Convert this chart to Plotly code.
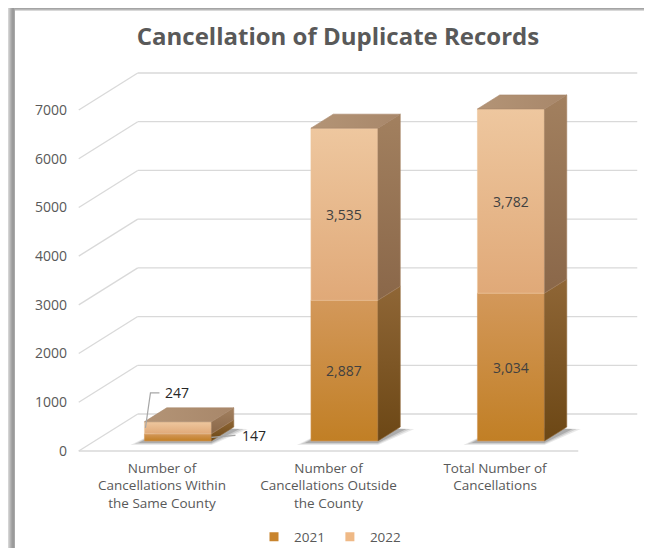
import plotly.graph_objects as go

# ---------------- data ----------------
categories = [
    "Number of<br>Cancellations Within<br>the Same County",
    "Number of<br>Cancellations Outside<br>the County",
    "Total Number of<br>Cancellations",
]
values_2021 = [147, 2887, 3034]
values_2022 = [247, 3535, 3782]
series_names = ["2021", "2022"]
y_ticks = [0, 1000, 2000, 3000, 4000, 5000, 6000, 7000]
title_text = "Cancellation of Duplicate Records"

# ---------------- layout geometry (figure pixels; page has an 8px body margin) ----------------
OFF = 8
W, H = 652 - 2 * OFF, 560 - 2 * OFF - 4
L, R, T = 76 - OFF, 2, 60 - OFF
B = H - (458 - OFF)
PX_PER_CAT = 166.5
PX_PER_VAL = 341.0 / 7000.0
X0_PX, Y0_PX = 162.0 - OFF, 451.0 - OFF
x_range = [(L - X0_PX) / PX_PER_CAT, (W - R - X0_PX) / PX_PER_CAT]
y_range = [(Y0_PX - (H - B)) / PX_PER_VAL, (Y0_PX - T) / PX_PER_VAL]


def dxp(px):
    return px / PX_PER_CAT


def dvp(px):
    return px / PX_PER_VAL


DEPTH_X, DEPTH_Y = dxp(59), dvp(37)
F_FRONT, F_BACK = 10 / 37, 24 / 37
HALF_W = dxp(33.5)
EDGE_L, EDGE_R = -0.5, len(categories) - 0.5

FONT = "Open Sans"
TXT = "#595959"
GRID = "#d9d9d9"

C2021 = dict(front_top="#d3985a", front_bot="#c17f25", side_top="#8f6636", side_bot="#6c4715")
C2022 = dict(front_top="#eec79f", front_bot="#e0a978", side_top="#a2805f", side_bot="#8a6749")
C_TOP = ("#b39476", "#a8876a")
LEG = {"2021": "#c8842e", "2022": "#efb986"}

fig = go.Figure()


def poly(xs, ys, color=None, grad=None, line_color=None, lw=0.6):
    kw = dict(
        x=list(xs) + [xs[0]], y=list(ys) + [ys[0]], mode="lines", fill="toself",
        line=dict(color=line_color or (color if color else grad[1][1]), width=lw),
        hoverinfo="skip", showlegend=False,
    )
    if grad is not None:
        kw["fillgradient"] = dict(type=grad[0], colorscale=[[0, grad[1][0]], [1, grad[1][1]]])
    else:
        kw["fillcolor"] = color
    fig.add_trace(go.Scatter(**kw))


# ---------------- walls & floor ----------------
gx, gy = [], []
for v in y_ticks:
    gx += [EDGE_L, EDGE_L + DEPTH_X, None]
    gy += [v, v + DEPTH_Y, None]
    gx += [EDGE_L + DEPTH_X, EDGE_R + DEPTH_X, None]
    gy += [v + DEPTH_Y, v + DEPTH_Y, None]
gx += [EDGE_L, EDGE_R, None]
gy += [0, 0, None]
fig.add_trace(go.Scatter(x=gx, y=gy, mode="lines", line=dict(color=GRID, width=1.3),
                         hoverinfo="skip", showlegend=False))

# ---------------- bars ----------------
for i in range(len(categories)):
    fx, fy = F_FRONT * DEPTH_X, F_FRONT * DEPTH_Y
    bx, by = F_BACK * DEPTH_X, F_BACK * DEPTH_Y
    xl, xr = i + fx - HALF_W, i + fx + HALF_W
    for k, a in enumerate([0.10, 0.14, 0.20]):
        e = 14 - 4 * k
        poly([xl - dxp(e), xr, xr + (bx - fx) + dxp(e), xl + (bx - fx)],
             [fy - dvp(4 - k), fy - dvp(4 - k), by - dvp(2), by],
             color=f"rgba(40,40,40,{a})", lw=0)
    base = 0
    segs = [(values_2021[i], C2021), (values_2022[i], C2022)]
    for val, col in segs:
        lo, hi = base, base + val
        poly([xl, xr, xr, xl], [fy + lo, fy + lo, fy + hi, fy + hi],
             grad=("vertical", (col["front_bot"], col["front_top"])))
        poly([xr, xr + (bx - fx), xr + (bx - fx), xr], [fy + lo, by + lo, by + hi, fy + hi],
             grad=("vertical", (col["side_bot"], col["side_top"])))
        base = hi
    top = base
    poly([xl, xr, xr + (bx - fx), xl + (bx - fx)], [fy + top, fy + top, by + top, by + top],
         grad=("horizontal", (C_TOP[0], C_TOP[1])))

# ---------------- data labels ----------------
ann = []
fxo, fyo = F_FRONT * DEPTH_X, F_FRONT * DEPTH_Y
for i in range(len(categories)):
    a, b = values_2021[i], values_2022[i]
    if a + b > 1500:
        ann.append(dict(x=i + fxo, y=fyo + a / 2, text=f"{a:,}", showarrow=False,
                        font=dict(size=14, color="#404040", family=FONT)))
        ann.append(dict(x=i + fxo, y=fyo + a + b / 2, text=f"{b:,}", showarrow=False,
                        font=dict(size=14, color="#404040", family=FONT)))
    else:
        xl, xr = i + fxo - HALF_W, i + fxo + HALF_W
        ly = fyo + dvp(29) + a + b
        fig.add_trace(go.Scatter(
            x=[xl + dxp(1), xl + dxp(6), xl + dxp(15)],
            y=[fyo + a + b / 2, ly, ly], mode="lines",
            line=dict(color="#a6a6a6", width=1.2), hoverinfo="skip", showlegend=False))
        ann.append(dict(x=xl + dxp(19), y=ly, text=f"{b:,}", showarrow=False, xanchor="left",
                        font=dict(size=14, color="#262626", family=FONT)))
        ry = fyo + a / 2 + dvp(2)
        fig.add_trace(go.Scatter(
            x=[xr, xr + dxp(24)], y=[fyo + a / 2, ry], mode="lines",
            line=dict(color="#a6a6a6", width=1.2), hoverinfo="skip", showlegend=False))
        ann.append(dict(x=xr + dxp(29), y=ry, text=f"{a:,}", showarrow=False, xanchor="left",
                        font=dict(size=14, color="#262626", family=FONT)))

# ---------------- legend entries ----------------
for name in series_names:
    fig.add_trace(go.Scatter(x=[None], y=[None], mode="markers", name=name,
                             marker=dict(symbol="square", size=9, color=LEG[name])))


# ---------------- frame (shadow border) ----------------
def pxx(px):
    return (px - L) / (W - L - R)


def pyy(py):
    return (H - B - py) / (H - T - B)


shapes = []
left_cols = ["#d4d4d4", "#c4c4c4", "#b4b4b4", "#a6a6a6", "#9c9c9c", "#9a9a9a", "#a8a8a8"]
for k, c in enumerate(left_cols):
    shapes.append(dict(type="rect", xref="paper", yref="paper", x0=pxx(k), x1=pxx(k + 1),
                       y0=pyy(H), y1=pyy(0), fillcolor=c, line=dict(width=0), layer="below"))
top_cols = ["#a4a4a4", "#b8b8b8", "#d8d8d8"]
for k, c in enumerate(top_cols):
    shapes.append(dict(type="rect", xref="paper", yref="paper", x0=pxx(len(left_cols)), x1=pxx(W),
                       y0=pyy(k + 1), y1=pyy(k), fillcolor=c, line=dict(width=0), layer="below"))

fig.update_layout(
    width=W, height=H,
    margin=dict(l=L, r=R, t=T, b=B, autoexpand=False),
    paper_bgcolor="white", plot_bgcolor="rgba(0,0,0,0)",
    title=dict(text=f"<b>{title_text}</b>", x=(338 - OFF) / W, xanchor="center", xref="container",
               y=1 - (37 - OFF) / H, yanchor="middle", yref="container",
               font=dict(family=FONT, size=24, color=TXT)),
    xaxis=dict(range=x_range, tickmode="array", tickvals=list(range(len(categories))),
               ticktext=categories, showgrid=False, zeroline=False, showline=False,
               automargin=False,
               ticks="", tickfont=dict(family=FONT, size=13.5, color=TXT), fixedrange=True),
    yaxis=dict(range=y_range, tickmode="array", tickvals=y_ticks, ticktext=[str(v) for v in y_ticks],
               showgrid=False, zeroline=False, showline=False, ticks="",
               ticklabelstandoff=8, automargin=False,
               tickfont=dict(family=FONT, size=14, color=TXT), fixedrange=True),
    legend=dict(orientation="h", xref="container", x=(330 - OFF) / W, xanchor="center",
                yref="container", y=1 - (537 - OFF) / H, yanchor="middle",
                font=dict(family=FONT, size=13.5, color=TXT), itemwidth=30, bgcolor="rgba(0,0,0,0)"),
    annotations=ann,
    shapes=shapes,
    showlegend=True,
)

fig.write_html("out.html")
